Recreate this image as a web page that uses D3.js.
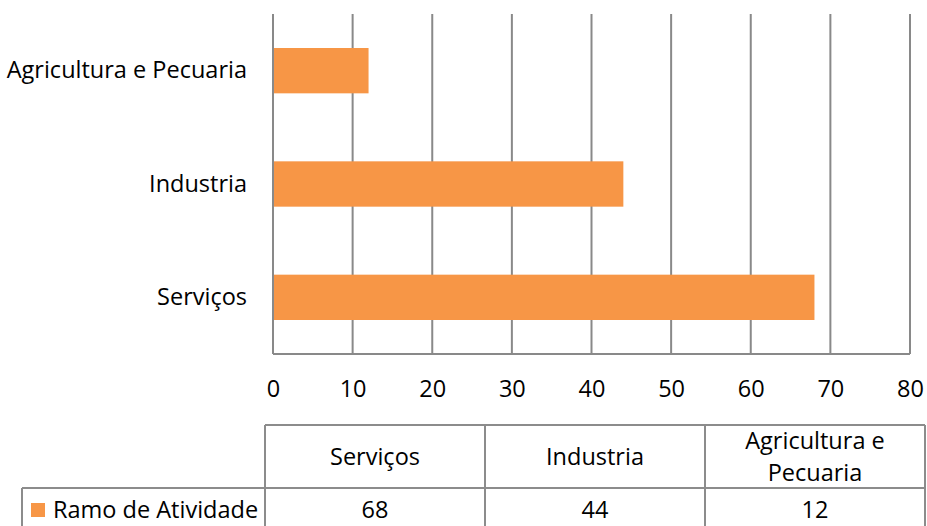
<!DOCTYPE html>
<html>
<head>
<meta charset="utf-8">
<script src="https://cdn.jsdelivr.net/npm/d3@7"></script>
<style>
  body { margin: 0; background: #fff; }
  text { font-family: "Open Sans", sans-serif; fill: #000; }
</style>
</head>
<body>
<div class="chart"></div>
<script>
// data
const categories = ["Agricultura e Pecuaria", "Industria", "Serviços"];
const values = [12, 44, 68];
const seriesName = "Ramo de Atividade";
const xTicks = [0, 10, 20, 30, 40, 50, 60, 70, 80];
// table order (as in the data table under the chart)
const tableOrder = ["Serviços", "Industria", "Agricultura e Pecuaria"];
const headerLines = {
    "Serviços": ["Serviços"],
    "Industria": ["Industria"],
    "Agricultura e Pecuaria": ["Agricultura e", "Pecuaria"]
};

const W = 927, H = 526;
const margin = {top: 14, left: 273, right: 17, bottom: 172};
const width = W - margin.left - margin.right,
      height = H - margin.top - margin.bottom;

const orange = "#F79646", grid = "#898989";
const fs = 23.5;

const svg = d3.select(".chart").append("svg")
    .attr("width", W)
    .attr("height", H);

const g = svg.append("g")
    .attr("transform", `translate(${margin.left},${margin.top})`);

const x = d3.scaleLinear().domain([0, 80]).range([0, width]);
const y = d3.scaleBand().domain(categories).range([0, height])
    .paddingInner(0.6).paddingOuter(0.3);

// vertical gridlines
g.selectAll(".grid")
    .data(xTicks)
    .join("line")
    .attr("class", "grid")
    .attr("x1", d => x(d)).attr("x2", d => x(d))
    .attr("y1", 0).attr("y2", height)
    .attr("stroke", grid)
    .attr("stroke-width", 2);

// bottom axis line
g.append("line")
    .attr("x1", x(0)).attr("x2", x(80))
    .attr("y1", height).attr("y2", height)
    .attr("stroke", grid)
    .attr("stroke-width", 2);

// bars
g.selectAll(".bar")
    .data(categories)
    .join("rect")
    .attr("class", "bar")
    .attr("x", x(0) + 1)
    .attr("y", d => y(d))
    .attr("width", (d, i) => x(values[i]) - x(0) - 1)
    .attr("height", y.bandwidth())
    .attr("fill", orange);

// x axis labels
const xAxis = d3.axisBottom(x).tickValues(xTicks).tickSize(0).tickPadding(0);
g.append("g")
    .attr("transform", `translate(0,${height})`)
    .call(xAxis)
    .call(a => a.select(".domain").remove())
    .call(a => a.selectAll("text")
        .attr("dy", null)
        .attr("y", 43)
        .attr("font-size", fs));

// y axis labels
const yAxis = d3.axisLeft(y).tickSize(0).tickPadding(26);
g.append("g")
    .call(yAxis)
    .call(a => a.select(".domain").remove())
    .call(a => a.selectAll("text")
        .attr("dy", "0.33em")
        .attr("font-size", fs));

// data table
const col = d3.scaleBand().domain(tableOrder).range([265, 925]);
const rowTop = 425, rowMid = 488, rowBot = 540;
const tableStroke = "#8c8c8c";
const table = svg.append("g").attr("class", "table");

// horizontal lines
table.append("line").attr("x1", col.range()[0]).attr("x2", col.range()[1])
    .attr("y1", rowTop).attr("y2", rowTop);
table.append("line").attr("x1", 22).attr("x2", col.range()[1])
    .attr("y1", rowMid).attr("y2", rowMid);
// vertical lines
table.selectAll(".vline")
    .data(tableOrder.concat(["end"]))
    .join("line")
    .attr("class", "vline")
    .attr("x1", d => d === "end" ? col.range()[1] : col(d))
    .attr("x2", d => d === "end" ? col.range()[1] : col(d))
    .attr("y1", rowTop).attr("y2", rowBot);
table.append("line").attr("x1", 22).attr("x2", 22)
    .attr("y1", rowMid).attr("y2", rowBot);
table.selectAll("line").attr("stroke", tableStroke).attr("stroke-width", 2);

// header cells
tableOrder.forEach(c => {
    const lines = headerLines[c];
    const cy = (rowTop + rowMid) / 2;
    const lh = 32;
    table.append("text")
        .attr("text-anchor", "middle")
        .attr("font-size", fs)
        .selectAll("tspan")
        .data(lines)
        .join("tspan")
        .attr("x", col(c) + col.bandwidth() / 2)
        .attr("y", (d, i) => cy + (i - (lines.length - 1) / 2) * lh)
        .attr("dy", "0.35em")
        .text(d => d);
});

// value cells
table.selectAll(".val")
    .data(tableOrder)
    .join("text")
    .attr("class", "val")
    .attr("text-anchor", "middle")
    .attr("font-size", fs)
    .attr("x", d => col(d) + col.bandwidth() / 2)
    .attr("y", 510)
    .attr("dy", "0.35em")
    .text(d => values[categories.indexOf(d)]);

// legend cell
table.append("rect")
    .attr("x", 31).attr("y", 503)
    .attr("width", 14).attr("height", 14)
    .attr("fill", orange);
table.append("text")
    .attr("x", 53).attr("y", 510)
    .attr("dy", "0.35em")
    .attr("font-size", fs)
    .text(seriesName);
</script>
</body>
</html>
